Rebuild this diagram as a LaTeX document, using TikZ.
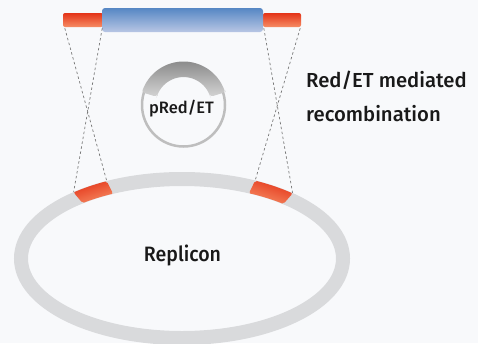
\documentclass[tikz,border=0pt]{standalone}
\usepackage{fontspec}
\setmainfont{Fira Sans}[UprightFont={* Medium}]
\newfontfamily\narrowfont{Fira Sans}[UprightFont={* Medium}, FakeStretch=0.94]
\definecolor{bgc}{RGB}{248,249,251}
\definecolor{ringc}{RGB}{217,218,220}
\definecolor{redtop}{RGB}{228,52,24}
\definecolor{redbot}{RGB}{246,140,100}
\definecolor{bluetop}{RGB}{86,135,196}
\definecolor{bluebot}{RGB}{184,198,228}
\definecolor{dashgray}{RGB}{120,120,120}
\definecolor{arctop}{RGB}{140,140,140}
\definecolor{arcbot}{RGB}{212,212,212}
\definecolor{thinringc}{RGB}{190,190,190}
\definecolor{txt}{RGB}{25,25,25}
\begin{document}
\begin{tikzpicture}[x=1pt,y=-1pt,
  redbar/.style={rectangle, minimum width=#1, minimum height=14pt, inner sep=0pt,
    rounded corners=2pt, top color=redtop, bottom color=redbot, draw=none},
  bluebar/.style={rectangle, minimum width=#1, minimum height=24pt, inner sep=0pt,
    rounded corners=3pt, top color=bluetop, bottom color=bluebot, draw=none},
  dashline/.style={draw=dashgray, line width=0.7pt, dash pattern=on 2.5pt off 2.5pt},
  lbl/.style={text=txt, inner sep=0pt}]
\fill[bgc] (0,0) rectangle (478,343);
\useasboundingbox (0,0) rectangle (478,343);

% top construct
\node[redbar=40pt] (L) at (83,20) {};
\node[redbar=38pt] (R) at (282,20) {};
\node[bluebar=161pt] (B) at (182.5,20) {};

% ends of the homology segments on the replicon
\coordinate (LL) at ({182+168*cos(130.2)},{258.5-86.5*sin(130.2)});
\coordinate (LR) at ({182+168*cos(116.6)},{258.5-86.5*sin(116.6)});
\coordinate (RL) at ({182+168*cos(64.2)},{258.5-86.5*sin(64.2)});
\coordinate (RR) at ({182+168*cos(48.8)},{258.5-86.5*sin(48.8)});

% crossing dashed lines
\draw[dashline] ([xshift=2pt,yshift=-1pt]L.south west) -- (LR);
\draw[dashline] ([xshift=-1pt,yshift=-1pt]L.south east) -- (LL);
\draw[dashline] ([xshift=1pt,yshift=-1pt]R.south west) -- (RR);
\draw[dashline] ([xshift=-1pt,yshift=-1pt]R.south east) -- (RL);

% replicon
\draw[ringc, line width=14pt] (182,258.5) ellipse [x radius=161, y radius=79.5];
\shade[top color=redtop, bottom color=redbot, shading angle=18, rounded corners=2pt]
  plot[domain=116.6:130.2, samples=15, variable=\t] ({182+168*cos(\t)},{258.5-86.5*sin(\t)})
  -- plot[domain=130.2:116.6, samples=15, variable=\t] ({182+154*cos(\t)},{258.5-72.5*sin(\t)})
  -- cycle;
\shade[top color=redtop, bottom color=redbot, shading angle=-18, rounded corners=2pt]
  plot[domain=48.8:64.2, samples=15, variable=\t] ({182+168*cos(\t)},{258.5-86.5*sin(\t)})
  -- plot[domain=64.2:48.8, samples=15, variable=\t] ({182+154*cos(\t)},{258.5-72.5*sin(\t)})
  -- cycle;
\node[lbl, anchor=base, font=\narrowfont\fontsize{20.8}{24}\selectfont] (rep) at (182.5,261.7) {Replicon};

% pRed/ET plasmid
\node[circle, draw=thinringc, line width=2.5pt, minimum size=83pt, inner sep=0pt] (P) at (183.5,105) {};
\shade[top color=arctop, bottom color=arcbot, rounded corners=3pt]
  plot[domain=17:163, samples=40, variable=\t] ({183.5+43.5*cos(\t)},{105-43.5*sin(\t)})
  -- plot[domain=163:17, samples=40, variable=\t] ({183.5+28*cos(\t)},{105-28*sin(\t)})
  -- cycle;
\node[lbl, anchor=base, font=\fontsize{16.5}{18}\selectfont] (ptxt) at (181.5,113) {pRed/ET};

% label
\node[lbl, anchor=base west, font=\fontsize{20.3}{24}\selectfont] (t1) at (306,87) {Red/ET mediated};
\node[lbl, anchor=base west, font=\fontsize{20.3}{24}\selectfont] (t2) at (306,121) {recombination};
\end{tikzpicture}
\end{document}
